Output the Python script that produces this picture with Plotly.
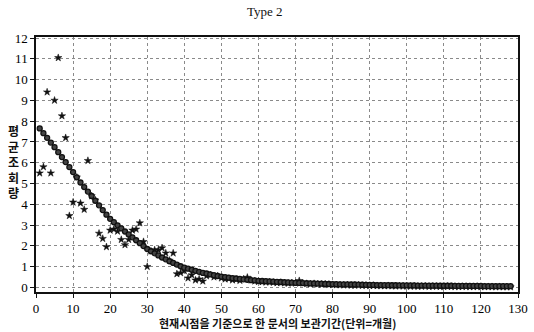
import plotly.graph_objects as go

months = list(range(1, 129))

observed = [
    5.5, 5.8, 9.4, 5.5, 9.0, 11.05, 8.25, 7.2, 3.45, 4.1,
    5.3, 4.05, 3.75, 6.1, 4.4, 4.2, 2.6, 2.35, 1.95, 2.75,
    2.8, 2.7, 2.3, 2.05, 2.3, 2.75, 2.8, 3.1, 2.2, 1.0,
    1.75, 1.8, 1.8, 1.9, 1.65, 1.3, 1.65, 0.65, 0.7, 0.8,
    0.45, 0.6, 0.35, 0.4, 0.3, 0.55, 0.6, 0.5, 0.55, 0.45,
    0.4, 0.42, 0.35, 0.38, 0.33, 0.4, 0.48, 0.35, 0.3, 0.28,
    0.27, 0.25, 0.26, 0.24, 0.22, 0.23, 0.21, 0.2, 0.22, 0.2,
    0.32, 0.2, 0.18, 0.17, 0.18, 0.16, 0.15, 0.16, 0.14, 0.13,
    0.12, 0.12, 0.11, 0.12, 0.1, 0.1, 0.11, 0.09, 0.1, 0.08,
    0.09, 0.08, 0.08, 0.07, 0.08, 0.07, 0.06, 0.07, 0.06, 0.06,
    0.05, 0.06, 0.05, 0.05, 0.06, 0.04, 0.05, 0.05, 0.04, 0.04,
    0.05, 0.04, 0.04, 0.03, 0.04, 0.04, 0.03, 0.03, 0.04, 0.03,
    0.03, 0.03, 0.03, 0.02, 0.03, 0.02, 0.02, 0.02,
]

fitted = [
    7.65, 7.42, 7.2, 6.97, 6.75, 6.51, 6.27, 6.03, 5.79, 5.55,
    5.3, 5.05, 4.83, 4.61, 4.4, 4.17, 3.95, 3.72, 3.5, 3.3,
    3.14, 2.99, 2.84, 2.69, 2.55, 2.41, 2.27, 2.13, 1.99, 1.85,
    1.74, 1.64, 1.54, 1.44, 1.35, 1.26, 1.18, 1.1, 1.02, 0.95,
    0.9, 0.85, 0.8, 0.75, 0.7, 0.67, 0.63, 0.59, 0.55, 0.52,
    0.5, 0.47, 0.45, 0.43, 0.41, 0.39, 0.37, 0.35, 0.34, 0.32,
    0.31, 0.3, 0.29, 0.28, 0.27, 0.26, 0.25, 0.24, 0.23, 0.22,
    0.215, 0.21, 0.2, 0.195, 0.19, 0.185, 0.18, 0.17, 0.165, 0.16,
    0.155, 0.15, 0.15, 0.145, 0.14, 0.14, 0.135, 0.13, 0.125, 0.12,
    0.12, 0.115, 0.115, 0.11, 0.11, 0.105, 0.105, 0.1, 0.1, 0.1,
    0.095, 0.095, 0.09, 0.09, 0.09, 0.085, 0.085, 0.085, 0.08, 0.08,
    0.08, 0.08, 0.075, 0.075, 0.075, 0.075, 0.07, 0.07, 0.07, 0.07,
    0.065, 0.065, 0.065, 0.065, 0.06, 0.06, 0.06, 0.06,
]

x_ticks = list(range(0, 131, 10))
y_ticks = list(range(0, 13))

title_text = "Type 2"
x_title = "현재시점을 기준으로 한 문서의 보관기간(단위=개월)"
y_title_chars = ["평", "균", "조", "회", "량"]

fig = go.Figure()
fig.add_trace(go.Scatter(
    x=months, y=observed, mode="markers",
    marker=dict(symbol="star", size=5.5, color="#111111", line=dict(width=0.5, color="#111111")),
    showlegend=False,
))
fig.add_trace(go.Scatter(
    x=months, y=fitted, mode="lines+markers",
    line=dict(color="#111111", width=1),
    marker=dict(symbol="circle", size=5, color="#444444", line=dict(width=1.3, color="#111111")),
    showlegend=False,
))

serif = "Liberation Serif, Times New Roman, serif"
axis_common = dict(
    showline=True, linecolor="#111111", linewidth=1.5, mirror=True,
    ticks="outside", ticklen=4, tickcolor="#111111", tickwidth=1,
    showgrid=True, gridcolor="#8a8a8a", griddash="dot", gridwidth=1,
    zeroline=False, ticklabeloverflow="allow",
    tickfont=dict(family=serif, size=13, color="#000000"),
)

fig.update_layout(
    width=534, height=332,
    margin=dict(l=36, r=6, t=37, b=40),
    paper_bgcolor="white", plot_bgcolor="white",
    xaxis=dict(range=[0, 130], tickvals=x_ticks, **axis_common),
    yaxis=dict(range=[-0.22, 12.05], tickvals=y_ticks, **axis_common),
)

fig.add_annotation(text=title_text, xref="paper", yref="paper",
                   x=(270 - 36) / 492, y=(292 - 12) / 255,
                   yanchor="middle", xanchor="center", showarrow=False,
                   font=dict(family=serif, size=13, color="#111111"))
fig.add_annotation(text=x_title, xref="paper", yref="paper",
                   x=(283 - 36) / 492, y=-(323 - 292) / 255,
                   yanchor="middle", xanchor="center", showarrow=False,
                   font=dict(family="Noto Sans CJK KR", size=11, color="#111111", weight="bold"))
fig.add_annotation(text="<br>".join(y_title_chars), xref="paper", yref="paper",
                   x=-(36 - 13) / 492, y=(292 - 161) / 255,
                   yanchor="middle", xanchor="center", showarrow=False,
                   font=dict(family="Noto Sans CJK KR", size=12, color="#111111", weight="bold"))

fig.write_html("out.html")
